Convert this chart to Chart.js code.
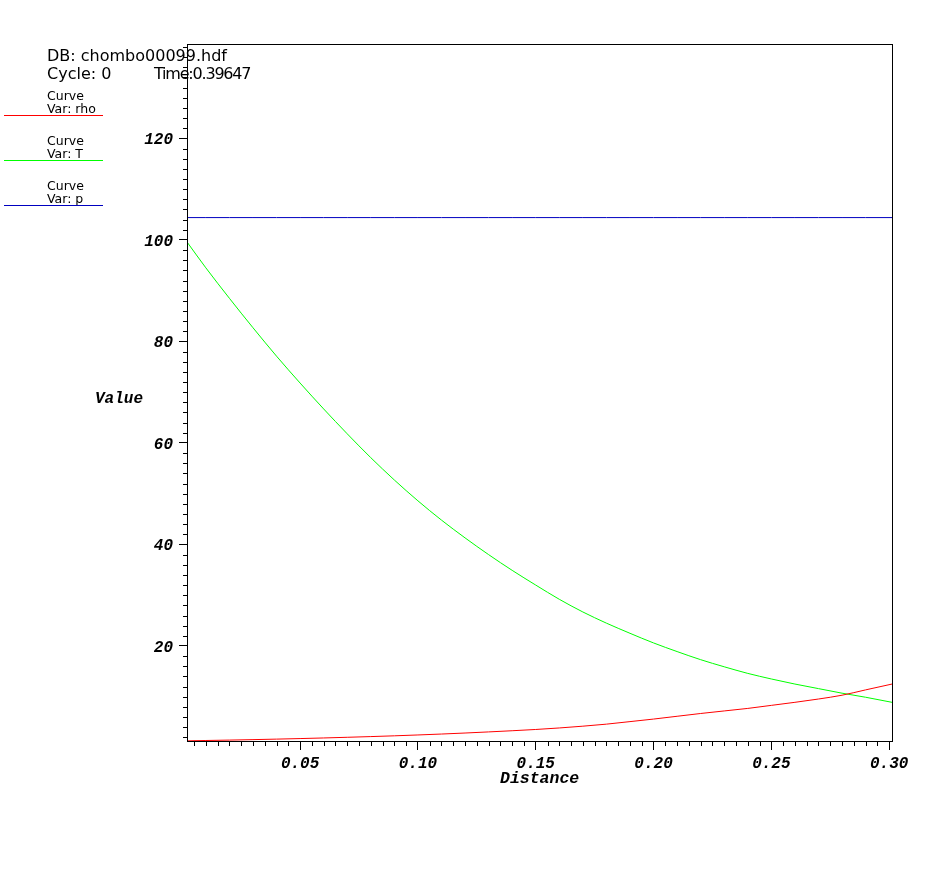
<!DOCTYPE html>
<html>
<head>
<meta charset="utf-8">
<script src="https://cdn.jsdelivr.net/npm/chart.js@4.4.1/dist/chart.umd.min.js"></script>
<style>
  body { margin: 0; background: #fff; }
  #wrap { position: relative; width: 941px; height: 873px; }
  .txt { position: absolute; white-space: pre; color: #000; font-family: "DejaVu Sans", sans-serif; }
  .hdr { font-size: 16px; line-height: 16px; }
  .leg { font-size: 12.5px; line-height: 12.5px; }
  .ax { font-family: "Liberation Mono", "DejaVu Sans Mono", monospace; font-weight: bold; font-style: italic; font-size: 16px; line-height: 16px; }
  .swatch { position: absolute; left: 4px; width: 99px; height: 0; border-top: 1px solid; }
</style>
</head>
<body>
<div id="wrap">
  <canvas id="chart"></canvas>
  <div class="txt hdr" style="left:47px;top:48px;">DB: chombo00099.hdf</div>
  <div class="txt hdr" style="left:47px;top:66px;">Cycle: 0</div>
  <div class="txt hdr" style="left:154px;top:66px;letter-spacing:-1.2px;">Time:0.39647</div>
  <div id="legend"></div>
  <div class="txt ax" style="left:95px;top:391px;">Value</div>
  <div class="txt ax" style="left:500px;top:771px;font-size:16.5px;">Distance</div>
</div>
<script>
// data
const distance = [0.002, 0.01, 0.02, 0.03, 0.04, 0.05, 0.06, 0.07, 0.08, 0.09, 0.10,
  0.11, 0.12, 0.13, 0.14, 0.15, 0.16, 0.17, 0.18, 0.19, 0.20,
  0.21, 0.22, 0.23, 0.24, 0.25, 0.26, 0.27, 0.28, 0.29, 0.3012];
const rho = [1.31, 1.38, 1.46, 1.55, 1.65, 1.76, 1.88, 2.01, 2.15, 2.3, 2.47,
  2.65, 2.85, 3.07, 3.3, 3.55, 3.85, 4.2, 4.6, 5.1, 5.6,
  6.15, 6.7, 7.2, 7.7, 8.3, 8.9, 9.55, 10.3, 11.35, 12.5];
const temp = [99.6, 94.5, 88.5, 82.7, 77.1, 71.8, 66.7, 61.8, 57.1, 52.7, 48.6,
  44.8, 41.3, 38.0, 34.9, 32.0, 29.2, 26.7, 24.5, 22.5, 20.6,
  18.9, 17.3, 15.9, 14.6, 13.5, 12.5, 11.6, 10.7, 9.9, 8.9];
const pres = [104.4, 104.4, 104.4, 104.4, 104.4, 104.4, 104.4, 104.4, 104.4, 104.4, 104.4,
  104.4, 104.4, 104.4, 104.4, 104.4, 104.4, 104.4, 104.4, 104.4, 104.4,
  104.4, 104.4, 104.4, 104.4, 104.4, 104.4, 104.4, 104.4, 104.4, 104.4];

const varNames = ["rho", "T", "p"];
const colors = ["#ff0000", "#00ff00", "#0000c0"];

const xTicks = [0.05, 0.10, 0.15, 0.20, 0.25, 0.30];
const xTickLabels = ["0.05", "0.10", "0.15", "0.20", "0.25", "0.30"];
const yTicks = [20, 40, 60, 80, 100, 120];
const yTickLabels = ["20", "40", "60", "80", "100", "120"];

// legend on the left
const legend = document.getElementById("legend");
varNames.forEach((v, i) => {
  const top = 88 + i * 45;
  legend.insertAdjacentHTML("beforeend",
    '<div class="txt leg" style="left:47px;top:' + (top + 2) + 'px;">Curve</div>' +
    '<div class="txt leg" style="left:47px;top:' + (top + 15) + 'px;">Var: ' + v + '</div>' +
    '<div class="swatch" style="top:' + (top + 27) + 'px;border-color:' + colors[i] + ';"></div>');
});

function zip(xs, ys) {
  return xs.map((x, i) => ({ x: x, y: ys[i] }));
}

// minor ticks + frame
const frame = {
  id: "frame",
  afterDraw(chart) {
    const ctx = chart.ctx;
    const a = chart.chartArea;
    const xs = chart.scales.x, ys = chart.scales.y;
    ctx.save();
    ctx.strokeStyle = "#000";
    ctx.lineWidth = 1;
    ctx.beginPath();
    for (let v = 2; v < ys.max; v += 2) {
      if (v % 20 === 0) continue;
      const py = Math.round(ys.getPixelForValue(v)) + 0.5;
      ctx.moveTo(a.left - 4, py);
      ctx.lineTo(a.left, py);
    }
    for (let k = 1; k * 0.005 < xs.max; k++) {
      if (k % 10 === 0) continue;
      const px = Math.round(xs.getPixelForValue(k * 0.005)) + 0.5;
      ctx.moveTo(px, a.bottom);
      ctx.lineTo(px, a.bottom + 5);
    }
    ctx.stroke();
    ctx.strokeRect(Math.round(a.left) + 0.5, Math.round(a.top) + 0.5,
      Math.round(a.right - a.left), Math.round(a.bottom - a.top));
    ctx.restore();
  }
};

const tickFont = { family: "'Liberation Mono', 'DejaVu Sans Mono', monospace", size: 16, style: "italic", weight: "bold" };

new Chart(document.getElementById("chart"), {
  type: "line",
  data: {
    datasets: [rho, temp, pres].map((s, i) => ({
      label: varNames[i],
      data: zip(distance, s),
      borderColor: colors[i],
      borderWidth: 1,
      pointRadius: 0,
      fill: false,
      cubicInterpolationMode: "monotone"
    }))
  },
  options: {
    responsive: true,
    maintainAspectRatio: false,
    animation: false,
    layout: { padding: { top: 44, right: 49, left: 0, bottom: 0 } },
    plugins: { legend: { display: false }, tooltip: { enabled: false } },
    scales: {
      x: {
        type: "linear",
        min: 0.002,
        max: 0.3012,
        afterFit(scale) { scale.height = 132; },
        afterBuildTicks(scale) { scale.ticks = xTicks.map(v => ({ value: v })); },
        grid: { drawOnChartArea: false, tickLength: 9, color: "#000" },
        border: { display: false },
        ticks: {
          color: "#000",
          font: tickFont,
          padding: 4,
          maxRotation: 0,
          callback: (v) => xTickLabels[xTicks.findIndex(t => Math.abs(t - v) < 1e-9)]
        }
      },
      y: {
        type: "linear",
        min: 1.28,
        max: 138.6,
        afterFit(scale) { scale.width = 187; },
        afterBuildTicks(scale) { scale.ticks = yTicks.map(v => ({ value: v })); },
        grid: { drawOnChartArea: false, tickLength: 8, color: "#000" },
        border: { display: false },
        ticks: {
          color: "#000",
          font: tickFont,
          padding: 6,
          labelOffset: 2,
          callback: (v) => yTickLabels[yTicks.indexOf(v)]
        }
      }
    }
  },
  plugins: [frame]
});
</script>
</body>
</html>
